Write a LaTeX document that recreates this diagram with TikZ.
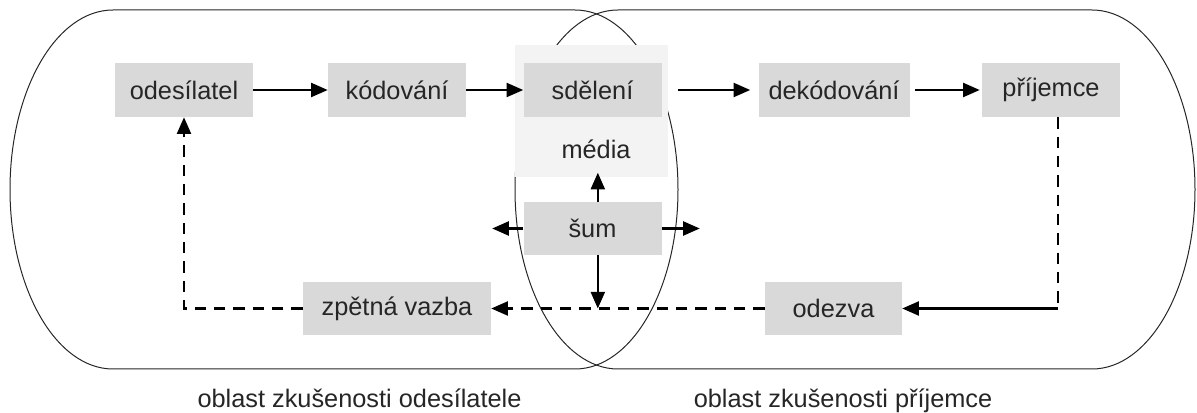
\documentclass[tikz,border=0pt]{standalone}
\usepackage{fontspec}
\setmainfont{Liberation Sans}
\usetikzlibrary{arrows.meta,calc}
\definecolor{boxgray}{HTML}{D9D9D9}
\definecolor{lightgray}{HTML}{F3F3F3}
\definecolor{textgray}{HTML}{262626}
\begin{document}
\begin{tikzpicture}[x=0.75pt,y=-0.75pt,
  lbl/.style={text=textgray,font=\fontsize{19}{22}\selectfont},
  box/.style={lbl,fill=boxgray,inner sep=0pt,minimum height=40.5pt,minimum width=103.5pt},
  outline/.style={line width=0.75pt,draw=black!85},
  arr/.style={line width=1.7pt,-{Triangle[length=12.5pt,width=10.5pt]}},
  dsh/.style={line width=1.7pt,dash pattern=on 8.5pt off 6pt}]
\useasboundingbox (0,0) rectangle (1197,413);
% experience areas
\draw[outline] (113,10) -- (575,10)
  arc[start angle=90,end angle=-90,x radius=77.25pt,y radius=134.625pt]
  -- (113,369)
  arc[start angle=270,end angle=90,x radius=77.25pt,y radius=134.625pt] -- cycle;
\draw[outline] (618,10) -- (1092,10)
  arc[start angle=90,end angle=-90,x radius=77.25pt,y radius=134.625pt]
  -- (618,369)
  arc[start angle=270,end angle=90,x radius=77.25pt,y radius=134.625pt] -- cycle;
% media background
\node[fill=lightgray,inner sep=0pt,minimum width=114.75pt,minimum height=99pt] (mediabg) at (591.5,111) {};
\node[lbl] (media) at (596,149) {média};
% boxes
\node[box] (odes) at (184,90) {odesílatel};
\node[box] (kod) at (397,90) {kódování};
\node[box] (sdel) at (592.5,90) {sdělení};
\node[box,minimum width=113.25pt] (dek) at (834,90) {dekódování};
\node[box] (prij) at (1051,90) {příjemce};
\node[box,minimum height=39.75pt] (sum) at (592.5,228.5) {šum};
\node[box,minimum width=141pt,minimum height=39.75pt] (zpet) at (397,308.5) {zpětná vazba};
\node[box,minimum width=102.75pt,minimum height=39.75pt] (odez) at (833.5,308.5) {odezva};
% labels
\node[lbl,anchor=base] (la) at (359.5,407) {oblast zkušenosti odesílatele};
\node[lbl,anchor=base] (lb) at (843,407) {oblast zkušenosti příjemce};
% main flow
\draw[arr] (odes) -- (kod);
\draw[arr] (kod) -- (sdel);
\draw[arr,shorten <=7.5pt,shorten >=6pt] (sdel.east -| mediabg.east) -- (dek.west);
\draw[arr,shorten <=3.75pt,shorten >=1.5pt] (dek) -- (prij);
% response
\coordinate (c1) at ([xshift=5.25pt]prij.south |- odez.east);
\draw[dsh] ([xshift=5.25pt]prij.south) -- (c1);
\draw[arr] (c1) -- (odez.east);
\draw[arr,dsh] (odez.west) -- (zpet.east);
\draw[arr,dsh] (zpet.west) -- (odes.south |- zpet.west) -- (odes.south);
% noise
\draw[arr] ([xshift=4pt]sum.north) -- ++(0,-29);
\draw[arr] ([xshift=4pt]sum.south) -- ([xshift=4pt]sum.south |- zpet.east);
\draw[arr] (sum.west) -- ++(-31,0);
\draw[arr] (sum.east) -- ++(38,0);
\end{tikzpicture}
\end{document}
